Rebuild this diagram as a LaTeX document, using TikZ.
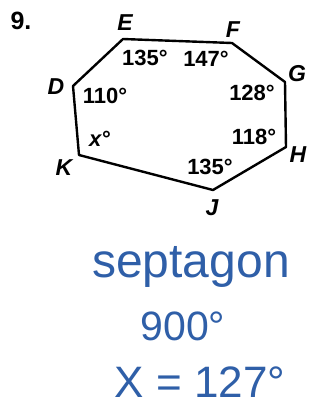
\documentclass[tikz,border=0pt]{standalone}
\usepackage{fontspec}
\setmainfont{Liberation Sans}
\definecolor{penblue}{HTML}{2F5FA8}
\tikzset{
  vlabel/.style={font=\fontsize{23}{25}\selectfont\bfseries\itshape},
  alabel/.style={font=\fontsize{22}{24}\selectfont\bfseries},
  hand/.style={text=penblue,anchor=base,font=\fontsize{48}{52}\selectfont}
}
\begin{document}
\begin{tikzpicture}[x=1pt,y=-1pt]
\useasboundingbox[fill=white] (0,0) rectangle (321,407);
% vertices
\coordinate (E) at (123,39);
\coordinate (F) at (232,43);
\coordinate (G) at (285,82);
\coordinate (H) at (286,147);
\coordinate (J) at (213,190);
\coordinate (K) at (79,155);
\coordinate (D) at (73,86);
\draw[line width=2.4pt,line join=round] (D) -- (E) -- (F) -- (G) -- (H) -- (J) -- (K) -- cycle;
\node[font=\fontsize{25}{27}\selectfont\bfseries] (num) at (21,21) {9.};
% vertex names
\node[vlabel] (lE) at (125,23) {E};
\node[vlabel] (lF) at (233,30) {F};
\node[vlabel] (lG) at (297,74) {G};
\node[vlabel] (lH) at (298,155) {H};
\node[vlabel] (lJ) at (212,208) {J};
\node[vlabel] (lK) at (64,168) {K};
\node[vlabel] (lD) at (56,87) {D};
% angles
\node[alabel] (aE) at (145,58) {135°};
\node[alabel] (aF) at (206,59) {147°};
\node[alabel] (aD) at (105,96) {110°};
\node[alabel] (aG) at (252,93) {128°};
\node[alabel] (aK) at (100,139) {\textit{x}°};
\node[alabel] (aH) at (254,137) {118°};
\node[alabel] (aJ) at (210,167) {135°};
% handwritten work
\node[hand] (name) at (191,277) {septagon};
\node[hand,font=\fontsize{41}{44}\selectfont] (sum) at (183,340) {900°};
\node[hand,font=\fontsize{44}{48}\selectfont] (ans) at (200,397) {X = 127°};
\end{tikzpicture}
\end{document}
